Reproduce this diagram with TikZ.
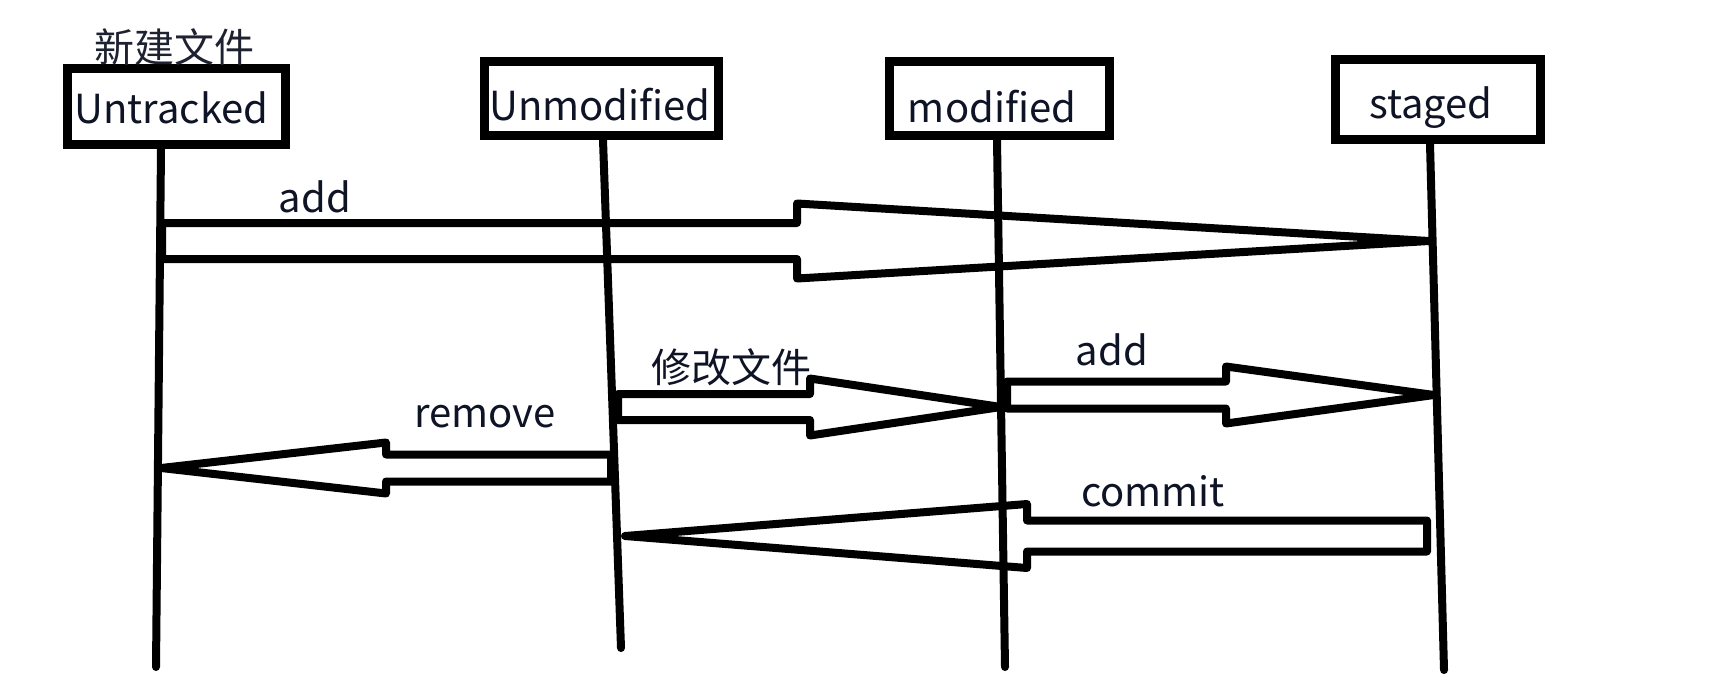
\documentclass[tikz,border=0pt]{standalone}
\usepackage{fontspec}
\setmainfont{Noto Sans CJK SC}
\usetikzlibrary{calc}
\definecolor{txt}{HTML}{0E1325}
\definecolor{cjk}{HTML}{1E2230}
\tikzset{
  statebox/.style={draw, line width=9, inner sep=0pt},
  lifeline/.style={line width=8, line cap=round},
  blockarrow/.style={draw, line width=8, line join=round},
  lbl/.style={inner sep=0pt, text=txt, font=\fontsize{40}{48}\selectfont},
}
% #1 from, #2 to, #3 signed head length, #4 shaft half width, #5 head half width
\newcommand{\blockarr}[5]{%
  \draw[blockarrow] let \p1=(#1), \p2=(#2) in
    (\x1,\y1+#4pt) -- (\x2-#3pt,\y1+#4pt) -- (\x2-#3pt,\y1+#5pt) -- (\x2,\y2)
    -- (\x2-#3pt,\y1-#5pt) -- (\x2-#3pt,\y1-#4pt) -- (\x1,\y1-#4pt) -- cycle;}
\begin{document}
\begin{tikzpicture}[x=1pt,y=-1pt]
\fill[white] (0,0) rectangle (1720,688);
\useasboundingbox (0,0) rectangle (1720,688);

% state boxes
\node[statebox, minimum width=218, minimum height=76] (untracked) at (176.5,106.5) {};
\node[statebox, minimum width=234, minimum height=74] (unmodified) at (601.5,98.5) {};
\node[statebox, minimum width=220, minimum height=74] (modified) at (999.5,98.5) {};
\node[statebox, minimum width=205, minimum height=80] (staged) at (1438,99.5) {};
\node[lbl] (untrackedT) at (171.5,108) {Untracked};
\node[lbl] (unmodifiedT) at (600,105) {Unmodified};
\node[lbl] (modifiedT) at (992,107) {modified};
\node[lbl] (stagedT) at (1431,107.5) {staged};

\node[lbl, text=cjk] (newfile) at (174,47) {新建文件};

% lifelines
\coordinate (uTop) at (161,149);  \coordinate (uBot) at (156,667);
\coordinate (umTop) at (603,140); \coordinate (umBot) at (621,648);
\coordinate (mTop) at (997,140);  \coordinate (mBot) at (1005,667);
\coordinate (sTop) at (1430,144); \coordinate (sBot) at (1444,670);
\draw[lifeline] (uTop) -- (uBot);
\draw[lifeline] (umTop) -- (umBot);
\draw[lifeline] (mTop) -- (mBot);
\draw[lifeline] (sTop) -- (sBot);

% arrow end points on the lifelines
\coordinate (a1from) at (162,241);  \coordinate (a1to) at (1429,241);
\coordinate (a2from) at (618,407);  \coordinate (a2to) at (1001,407);
\coordinate (a3from) at (1007,395); \coordinate (a3to) at (1434,395);
\coordinate (a4from) at (611,468);  \coordinate (a4to) at (161,468);
\coordinate (a5from) at (1427,536); \coordinate (a5to) at (625,536);

\blockarr{a1from}{a1to}{632}{18}{37.5}
\blockarr{a2from}{a2to}{191}{13}{28.5}
\blockarr{a3from}{a3to}{208}{13.5}{28.5}
\blockarr{a4from}{a4to}{-225}{13.5}{25.5}
\blockarr{a5from}{a5to}{-402}{15.5}{32}

% labels
\node[lbl] (addA) at (315,197) {add};
\node[lbl] (modfile) at (731,367) {修改文件};
\node[lbl] (addB) at (1112,350) {add};
\node[lbl] (remove) at (485,417) {remove};
\node[lbl] (commit) at (1153,491) {commit};
\end{tikzpicture}
\end{document}
